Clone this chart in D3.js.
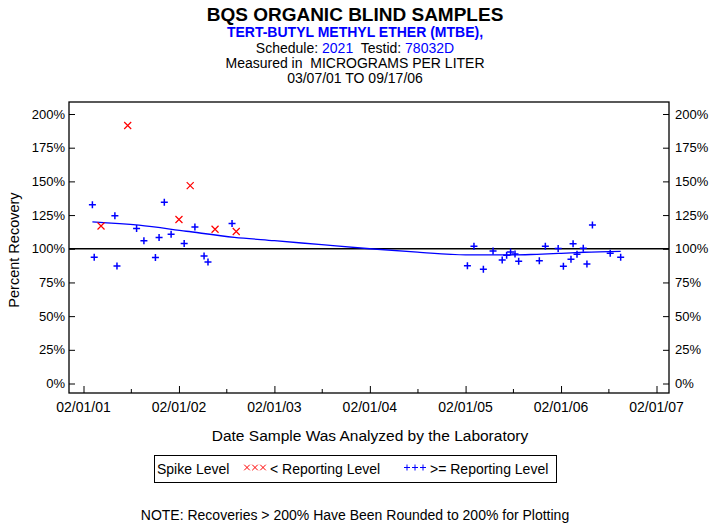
<!DOCTYPE html>
<html><head><meta charset="utf-8">
<script src="https://cdn.jsdelivr.net/npm/d3@7"></script>
<style>body{margin:0;background:#fff}svg{display:block}text{font-family:"Liberation Sans",Arial,sans-serif}</style>
</head><body>
<script>
const titleLines = ["BQS ORGANIC BLIND SAMPLES","TERT-BUTYL METHYL ETHER (MTBE),","Measured in  MICROGRAMS PER LITER","03/07/01 TO 09/17/06"];
const schedule = "2021", testid = "78032D";
const yTicks = [0,25,50,75,100,125,150,175,200];
const xTickLabels = ["02/01/01","02/01/02","02/01/03","02/01/04","02/01/05","02/01/06","02/01/07"];
// >= reporting level (blue +)
const geDates = ["2001-03-07","2001-03-14","2001-06-01","2001-06-09","2001-08-23","2001-09-20","2001-11-03","2001-11-17","2001-12-07","2002-01-02","2002-02-21","2002-04-03","2002-05-08","2002-05-23","2002-08-23",
 "2005-02-08","2005-03-05","2005-04-10","2005-05-17","2005-06-21","2005-07-08","2005-07-23","2005-08-09","2005-08-23","2005-11-10","2005-12-03","2006-01-21","2006-02-10","2006-03-11","2006-03-19","2006-04-03","2006-04-27","2006-05-11","2006-06-01","2006-08-08","2006-09-17"];
const geValues = [132.6,93.7,124.4,87.2,115,106,93.5,108.3,134.5,110.8,103.9,116.2,94.7,90.2,118.7,
 87.4,101.8,84.7,98.3,91.6,95.1,97.6,96.1,90.7,91.1,101.8,100.2,87.0,92.2,103.7,95.9,100.3,88.7,117.6,96.6,93.7];
// < reporting level (red x)
const ltDates = ["2001-04-09","2001-07-20","2002-02-01","2002-03-16","2002-06-19","2002-09-08"];
const ltValues = [116.9,191.5,121.7,146.9,114.5,112.8];
// smoothed trend
const trendDates = ["2001-03-07","2001-09-01","2002-03-01","2002-09-01","2003-02-01","2003-08-01","2004-02-01","2004-08-01","2005-02-01","2005-08-01","2005-11-01","2006-02-01","2006-05-01","2006-09-17"];
const trendValues = [120,117.5,113,108.5,106,103,100,97.5,95.5,95.4,95.9,96.6,97.4,98.1];

const W=713,H=523;
const svg=d3.select("body").append("svg").attr("width",W).attr("height",H);
const parse=d3.timeParse("%Y-%m-%d");
const fL=69,fR=669,fT=102,fB=393;
const x=d3.scaleTime().domain([parse("2001-02-01"),parse("2007-02-01")]).range([83.5,656.5]);
const y=d3.scaleLinear().domain([0,200]).range([383.5,114]);

// titles
const tc=355;
svg.append("text").attr("x",tc).attr("y",21).attr("text-anchor","middle").attr("font-weight","bold").attr("font-size",19).text(titleLines[0]);
svg.append("text").attr("x",tc).attr("y",37).attr("text-anchor","middle").attr("font-weight","bold").attr("font-size",14).attr("fill","#0000ff").text(titleLines[1]);
const t3=svg.append("text").attr("x",tc).attr("y",53).attr("text-anchor","middle").attr("font-size",14).attr("xml:space","preserve");
t3.append("tspan").text("Schedule: ");
t3.append("tspan").attr("fill","#0000ff").text(schedule);
t3.append("tspan").text("  Testid: ");
t3.append("tspan").attr("fill","#0000ff").text(testid);
svg.append("text").attr("x",tc).attr("y",68).attr("text-anchor","middle").attr("font-size",14).attr("xml:space","preserve").text(titleLines[2]);
svg.append("text").attr("x",tc).attr("y",83).attr("text-anchor","middle").attr("font-size",14).text(titleLines[3]);

// frame
svg.append("rect").attr("x",fL).attr("y",fT).attr("width",fR-fL).attr("height",fB-fT).attr("fill","none").attr("stroke","#000").attr("stroke-width",1.3);

// y axes (inward ticks)
const yl=d3.axisRight(y).tickValues(yTicks).tickSize(6).tickFormat("");
svg.append("g").attr("transform",`translate(${fL},0)`).call(yl).call(g=>g.select(".domain").remove());
const yr=d3.axisLeft(y).tickValues(yTicks).tickSize(6).tickFormat("");
svg.append("g").attr("transform",`translate(${fR},0)`).call(yr).call(g=>g.select(".domain").remove());
yTicks.forEach(v=>{
  svg.append("text").attr("x",65).attr("y",y(v)+4.5).attr("text-anchor","end").attr("font-size",13).text(v+"%");
  svg.append("text").attr("x",675).attr("y",y(v)+4.5).attr("text-anchor","start").attr("font-size",13).text(v+"%");
});

// x axis ticks (upward)
const majors=xTickLabels.map(s=>d3.timeParse("%m/%d/%y")(s));
const minors=d3.range(2001,2007).map(yy=>parse(yy+"-08-01"));
const xa=d3.axisTop(x).tickValues(majors).tickSize(7).tickFormat("");
svg.append("g").attr("transform",`translate(0,${fB})`).call(xa).call(g=>g.select(".domain").remove());
const xm=d3.axisTop(x).tickValues(minors).tickSize(4).tickFormat("");
svg.append("g").attr("transform",`translate(0,${fB})`).call(xm).call(g=>g.select(".domain").remove());
majors.forEach((d,i)=>svg.append("text").attr("x",x(d)).attr("y",412).attr("text-anchor","middle").attr("font-size",14).text(xTickLabels[i]));
svg.selectAll(".tick line").attr("stroke","#000");

// axis titles
svg.append("text").attr("x",370).attr("y",441).attr("text-anchor","middle").attr("font-size",15.5).text("Date Sample Was Analyzed by the Laboratory");
svg.append("text").attr("transform","translate(19,250) rotate(-90)").attr("text-anchor","middle").attr("font-size",14.5).text("Percent Recovery");

// 100% reference line
svg.append("line").attr("x1",fL).attr("x2",fR).attr("y1",y(100)).attr("y2",y(100)).attr("stroke","#000").attr("stroke-width",1.3);

// trend
const line=d3.line().x(d=>x(d[0])).y(d=>y(d[1])).curve(d3.curveMonotoneX);
svg.append("path").datum(trendDates.map((d,i)=>[parse(d),trendValues[i]])).attr("d",line).attr("fill","none").attr("stroke","#0000ff").attr("stroke-width",1.3);

// points
const s=3.5;
geDates.forEach((d,i)=>{
  const cx=x(parse(d)),cy=y(geValues[i]);
  svg.append("path").attr("d",`M${cx-s},${cy}H${cx+s}M${cx},${cy-s}V${cy+s}`).attr("stroke","#0000ff").attr("stroke-width",1.5).attr("fill","none");
});
ltDates.forEach((d,i)=>{
  const cx=x(parse(d)),cy=y(ltValues[i]);
  svg.append("path").attr("d",`M${cx-s},${cy-s}L${cx+s},${cy+s}M${cx-s},${cy+s}L${cx+s},${cy-s}`).attr("stroke","#ff0000").attr("stroke-width",1.2).attr("fill","none");
});

// legend
svg.append("rect").attr("x",154.5).attr("y",455.5).attr("width",402).attr("height",27).attr("fill","none").attr("stroke","#000").attr("stroke-width",1);
svg.append("text").attr("x",157).attr("y",474).attr("font-size",14).text("Spike Level");
for(let k=0;k<3;k++){const cx=247+k*8,cy=467.5,r=2.8;
  svg.append("path").attr("d",`M${cx-r},${cy-r}L${cx+r},${cy+r}M${cx-r},${cy+r}L${cx+r},${cy-r}`).attr("stroke","#ff0000").attr("stroke-width",1).attr("fill","none");}
svg.append("text").attr("x",270).attr("y",474).attr("font-size",14).text("< Reporting Level");
for(let k=0;k<3;k++){const cx=407+k*8,cy=467.5,r=3;
  svg.append("path").attr("d",`M${cx-r},${cy}H${cx+r}M${cx},${cy-r}V${cy+r}`).attr("stroke","#0000ff").attr("stroke-width",1).attr("fill","none");}
svg.append("text").attr("x",430).attr("y",474).attr("font-size",14).text(">= Reporting Level");

svg.append("text").attr("x",355).attr("y",520).attr("text-anchor","middle").attr("font-size",14).text("NOTE: Recoveries > 200% Have Been Rounded to 200% for Plotting");
</script>
</body></html>
